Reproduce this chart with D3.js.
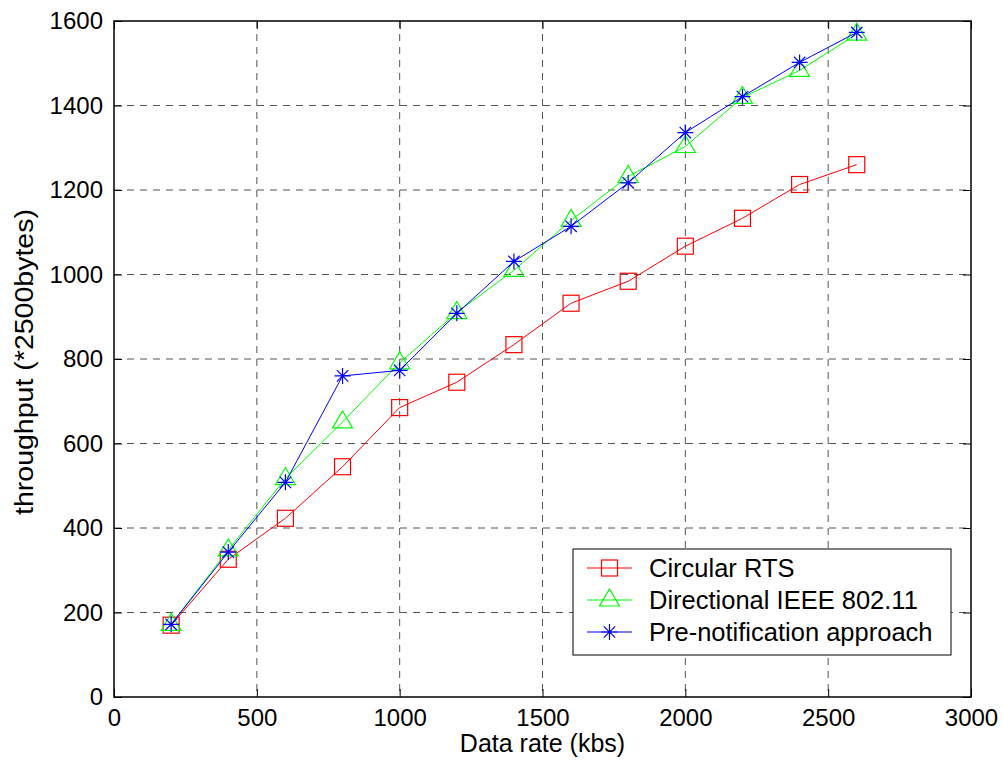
<!DOCTYPE html>
<html>
<head>
<meta charset="utf-8">
<script src="https://cdn.jsdelivr.net/npm/d3@7"></script>
<style>
  body { margin: 0; background: #fff; }
  svg { display: block; font-family: "Liberation Sans", Arial, sans-serif; }
</style>
</head>
<body>
<script>
// data
const rates = [200, 400, 600, 800, 1000, 1200, 1400, 1600, 1800, 2000, 2200, 2400, 2600];
const circularRTS = [170, 326, 423, 545, 685, 745, 834, 932, 984, 1067, 1133, 1213, 1260];
const directional = [172, 348, 517, 651, 791, 910, 1010, 1128, 1232, 1303, 1419, 1483, 1569];
const preNotif = [172, 343, 508, 760, 773, 908, 1031, 1114, 1217, 1336, 1421, 1502, 1573];
const seriesNames = ['Circular RTS', 'Directional IEEE 802.11', 'Pre-notification approach'];
const seriesColors = ['#ff0000', '#00ff00', '#0000ff'];
const seriesMarkers = ['square', 'triangle', 'star'];
const xTicks = [0, 500, 1000, 1500, 2000, 2500, 3000];
const yTicks = [0, 200, 400, 600, 800, 1000, 1200, 1400, 1600];

const width = 1003, height = 767;
const pLeft = 114, pRight = 971, pTop = 21, pBottom = 697;

const svg = d3.select('body').append('svg')
    .attr('width', width)
    .attr('height', height);

const x = d3.scaleLinear().domain([0, 3000]).range([pLeft, pRight]);
const y = d3.scaleLinear().domain([0, 1600]).range([pBottom, pTop]);

// grid
let grid = svg.append('g').attr('stroke', '#555').attr('stroke-dasharray', '7,6').attr('stroke-width', 1);
xTicks.slice(1, -1).forEach(t => {
    grid.append('line').attr('x1', x(t)).attr('x2', x(t)).attr('y1', pTop).attr('y2', pBottom);
});
yTicks.slice(1, -1).forEach(t => {
    grid.append('line').attr('x1', pLeft).attr('x2', pRight).attr('y1', y(t)).attr('y2', y(t));
});

// axes with inward ticks on all sides
const tickLen = 8;
const fmt = d3.format('d');
svg.append('g').attr('transform', 'translate(0,' + pBottom + ')')
    .call(d3.axisBottom(x).tickValues(xTicks).tickSize(-tickLen).tickPadding(12).tickFormat(fmt))
    .call(g => g.select('.domain').remove());
svg.append('g').attr('transform', 'translate(0,' + pTop + ')')
    .call(d3.axisTop(x).tickValues(xTicks).tickSize(-tickLen).tickFormat(''))
    .call(g => g.select('.domain').remove());
svg.append('g').attr('transform', 'translate(' + pLeft + ',0)')
    .call(d3.axisLeft(y).tickValues(yTicks).tickSize(-tickLen).tickPadding(11).tickFormat(fmt))
    .call(g => g.select('.domain').remove());
svg.append('g').attr('transform', 'translate(' + pRight + ',0)')
    .call(d3.axisRight(y).tickValues(yTicks).tickSize(-tickLen).tickFormat(''))
    .call(g => g.select('.domain').remove());

svg.selectAll('.tick text').attr('font-size', 24).attr('fill', '#000')
    .attr('font-family', '"Liberation Sans", Arial, sans-serif');
svg.selectAll('.tick line').attr('stroke', '#000');

svg.append('rect')
    .attr('x', pLeft).attr('y', pTop)
    .attr('width', pRight - pLeft).attr('height', pBottom - pTop)
    .attr('fill', 'none').attr('stroke', '#000').attr('stroke-width', 1.5);

// axis titles
svg.append('text')
    .attr('x', (pLeft + pRight) / 2).attr('y', 752)
    .attr('text-anchor', 'middle').attr('font-size', 25)
    .text('Data rate (kbs)');
svg.append('text')
    .attr('transform', 'translate(33,362) rotate(-90)')
    .attr('text-anchor', 'middle').attr('font-size', 25)
    .attr('textLength', 306).attr('lengthAdjust', 'spacingAndGlyphs')
    .text('throughput (*2500bytes)');

function drawMarker(g, type, cx, cy, color) {
    if (type === 'square') {
        g.append('rect').attr('x', cx - 8).attr('y', cy - 8).attr('width', 16).attr('height', 16)
            .attr('fill', 'none').attr('stroke', color).attr('stroke-width', 1.2);
    } else if (type === 'triangle') {
        g.append('path')
            .attr('d', 'M' + cx + ',' + (cy - 11) + 'L' + (cx + 10) + ',' + (cy + 6) + 'L' + (cx - 10) + ',' + (cy + 6) + 'Z')
            .attr('fill', 'none').attr('stroke', color).attr('stroke-width', 1.2);
    } else {
        let r = 8, d = 5.7;
        g.append('path')
            .attr('d', 'M' + (cx - r) + ',' + cy + 'H' + (cx + r) +
                'M' + cx + ',' + (cy - r) + 'V' + (cy + r) +
                'M' + (cx - d) + ',' + (cy - d) + 'L' + (cx + d) + ',' + (cy + d) +
                'M' + (cx - d) + ',' + (cy + d) + 'L' + (cx + d) + ',' + (cy - d))
            .attr('stroke', color).attr('stroke-width', 1.2);
    }
}

// series
const allSeries = [circularRTS, directional, preNotif];
const line = d3.line().x(d => x(d[0])).y(d => y(d[1]));
allSeries.forEach((vals, i) => {
    let pts = rates.map((r, j) => [r, vals[j]]);
    let g = svg.append('g');
    g.append('path').datum(pts).attr('d', line)
        .attr('fill', 'none').attr('stroke', seriesColors[i]).attr('stroke-width', 1);
    pts.forEach(p => drawMarker(g, seriesMarkers[i], x(p[0]), y(p[1]), seriesColors[i]));
});

// legend
const lg = svg.append('g');
lg.append('rect').attr('x', 573).attr('y', 549).attr('width', 378).attr('height', 106)
    .attr('fill', '#fff').attr('stroke', '#000').attr('stroke-width', 1);
seriesNames.forEach((name, i) => {
    let ly = 568 + i * 32;
    lg.append('line').attr('x1', 587).attr('x2', 632).attr('y1', ly).attr('y2', ly)
        .attr('stroke', seriesColors[i]).attr('stroke-width', 1);
    drawMarker(lg, seriesMarkers[i], 609.5, ly, seriesColors[i]);
    lg.append('text').attr('x', 649).attr('y', ly + 9).attr('font-size', 25.5).text(name);
});
</script>
</body>
</html>
